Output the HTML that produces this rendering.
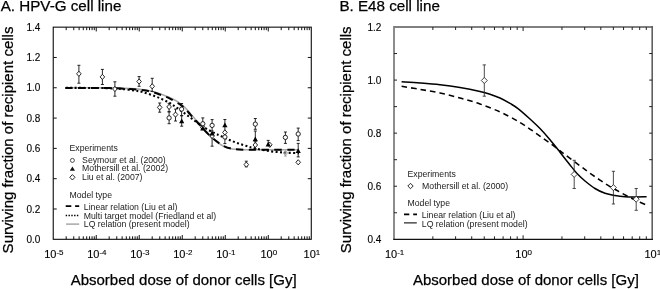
<!DOCTYPE html>
<html><head><meta charset="utf-8"><style>
html,body{margin:0;padding:0;background:#fff;width:660px;height:289px;overflow:hidden}
svg{display:block;will-change:transform}
text{font-family:"Liberation Sans", sans-serif;fill:#000}
.b{stroke:#000;stroke-width:0.25px}
.t{stroke:#000;stroke-width:0.12px}
.l text{fill:#1a1a1a}
</style></head><body>
<svg width="660" height="289" viewBox="0 0 660 289">
<rect x="53.23" y="27.15" width="258.04" height="212.15" fill="none" stroke="#000" stroke-width="1.05"/>
<path d="M66.18 239.30v-3M66.18 27.15v3M73.75 239.30v-3M73.75 27.15v3M79.12 239.30v-3M79.12 27.15v3M83.29 239.30v-3M83.29 27.15v3M86.70 239.30v-3M86.70 27.15v3M89.57 239.30v-3M89.57 27.15v3M92.07 239.30v-3M92.07 27.15v3M94.27 239.30v-3M94.27 27.15v3M96.24 239.30v-4.3M96.24 27.15v4.3M109.18 239.30v-3M109.18 27.15v3M116.76 239.30v-3M116.76 27.15v3M122.13 239.30v-3M122.13 27.15v3M126.30 239.30v-3M126.30 27.15v3M129.70 239.30v-3M129.70 27.15v3M132.58 239.30v-3M132.58 27.15v3M135.08 239.30v-3M135.08 27.15v3M137.28 239.30v-3M137.28 27.15v3M139.24 239.30v-4.3M139.24 27.15v4.3M152.19 239.30v-3M152.19 27.15v3M159.76 239.30v-3M159.76 27.15v3M165.14 239.30v-3M165.14 27.15v3M169.30 239.30v-3M169.30 27.15v3M172.71 239.30v-3M172.71 27.15v3M175.59 239.30v-3M175.59 27.15v3M178.08 239.30v-3M178.08 27.15v3M180.28 239.30v-3M180.28 27.15v3M182.25 239.30v-4.3M182.25 27.15v4.3M195.20 239.30v-3M195.20 27.15v3M202.77 239.30v-3M202.77 27.15v3M208.14 239.30v-3M208.14 27.15v3M212.31 239.30v-3M212.31 27.15v3M215.72 239.30v-3M215.72 27.15v3M218.59 239.30v-3M218.59 27.15v3M221.09 239.30v-3M221.09 27.15v3M223.29 239.30v-3M223.29 27.15v3M225.26 239.30v-4.3M225.26 27.15v4.3M238.20 239.30v-3M238.20 27.15v3M245.78 239.30v-3M245.78 27.15v3M251.15 239.30v-3M251.15 27.15v3M255.32 239.30v-3M255.32 27.15v3M258.72 239.30v-3M258.72 27.15v3M261.60 239.30v-3M261.60 27.15v3M264.10 239.30v-3M264.10 27.15v3M266.30 239.30v-3M266.30 27.15v3M268.26 239.30v-4.3M268.26 27.15v4.3M281.21 239.30v-3M281.21 27.15v3M288.78 239.30v-3M288.78 27.15v3M294.16 239.30v-3M294.16 27.15v3M298.32 239.30v-3M298.32 27.15v3M301.73 239.30v-3M301.73 27.15v3M304.61 239.30v-3M304.61 27.15v3M307.10 239.30v-3M307.10 27.15v3M309.30 239.30v-3M309.30 27.15v3M53.23 208.99h3.5M311.27 208.99h-3.5M53.23 178.69h3.5M311.27 178.69h-3.5M53.23 148.38h3.5M311.27 148.38h-3.5M53.23 118.07h3.5M311.27 118.07h-3.5M53.23 87.76h3.5M311.27 87.76h-3.5M53.23 57.46h3.5M311.27 57.46h-3.5" stroke="#111" stroke-width="1" fill="none"/>
<text x="40.33" y="242.90" text-anchor="end" font-size="10" class="t">0.0</text>
<text x="40.33" y="212.59" text-anchor="end" font-size="10" class="t">0.2</text>
<text x="40.33" y="182.29" text-anchor="end" font-size="10" class="t">0.4</text>
<text x="40.33" y="151.98" text-anchor="end" font-size="10" class="t">0.6</text>
<text x="40.33" y="121.67" text-anchor="end" font-size="10" class="t">0.8</text>
<text x="40.33" y="91.36" text-anchor="end" font-size="10" class="t">1.0</text>
<text x="40.33" y="61.06" text-anchor="end" font-size="10" class="t">1.2</text>
<text x="40.33" y="30.75" text-anchor="end" font-size="10" class="t">1.4</text>
<text x="53.83" y="258.4" text-anchor="middle" font-size="11" class="t">10<tspan font-size="8" dy="-3.9">-5</tspan></text>
<text x="96.84" y="258.4" text-anchor="middle" font-size="11" class="t">10<tspan font-size="8" dy="-3.9">-4</tspan></text>
<text x="139.84" y="258.4" text-anchor="middle" font-size="11" class="t">10<tspan font-size="8" dy="-3.9">-3</tspan></text>
<text x="182.85" y="258.4" text-anchor="middle" font-size="11" class="t">10<tspan font-size="8" dy="-3.9">-2</tspan></text>
<text x="225.86" y="258.4" text-anchor="middle" font-size="11" class="t">10<tspan font-size="8" dy="-3.9">-1</tspan></text>
<text x="268.86" y="258.4" text-anchor="middle" font-size="11" class="t">10<tspan font-size="8" dy="-3.9">0</tspan></text>
<text x="311.87" y="258.4" text-anchor="middle" font-size="11" class="t">10<tspan font-size="8" dy="-3.9">1</tspan></text>
<path d="M394.00 239.30V27.00H652.20" fill="none" stroke="#808080" stroke-width="1.8"/>
<path d="M652.20 26.10V239.30" fill="none" stroke="#606060" stroke-width="1.6"/>
<path d="M393.20 239.30H653.00" stroke="#111" stroke-width="1.2"/>
<path d="M432.86 239.30v-3M432.86 27.00v3M455.60 239.30v-3M455.60 27.00v3M471.73 239.30v-3M471.73 27.00v3M484.24 239.30v-3M484.24 27.00v3M494.46 239.30v-3M494.46 27.00v3M503.10 239.30v-3M503.10 27.00v3M510.59 239.30v-3M510.59 27.00v3M517.19 239.30v-3M517.19 27.00v3M523.10 239.30v-4M523.10 27.00v4M561.96 239.30v-3M561.96 27.00v3M584.70 239.30v-3M584.70 27.00v3M600.83 239.30v-3M600.83 27.00v3M613.34 239.30v-3M613.34 27.00v3M623.56 239.30v-3M623.56 27.00v3M632.20 239.30v-3M632.20 27.00v3M639.69 239.30v-3M639.69 27.00v3M646.29 239.30v-3M646.29 27.00v3M394.00 212.76h3M652.20 212.76h-3M394.00 186.22h3M652.20 186.22h-3M394.00 159.69h3M652.20 159.69h-3M394.00 133.15h3M652.20 133.15h-3M394.00 106.61h3M652.20 106.61h-3M394.00 80.08h3M652.20 80.08h-3M394.00 53.54h3M652.20 53.54h-3" stroke="#222" stroke-width="1" fill="none"/>
<text x="381.40" y="242.90" text-anchor="end" font-size="10" class="t">0.4</text>
<text x="381.40" y="189.83" text-anchor="end" font-size="10" class="t">0.6</text>
<text x="381.40" y="136.75" text-anchor="end" font-size="10" class="t">0.8</text>
<text x="381.40" y="83.68" text-anchor="end" font-size="10" class="t">1.0</text>
<text x="381.40" y="30.60" text-anchor="end" font-size="10" class="t">1.2</text>
<text x="394.60" y="258.4" text-anchor="middle" font-size="11" class="t">10<tspan font-size="8" dy="-3.9">-1</tspan></text>
<text x="523.70" y="258.4" text-anchor="middle" font-size="11" class="t">10<tspan font-size="8" dy="-3.9">0</tspan></text>
<text x="652.80" y="258.4" text-anchor="middle" font-size="11" class="t">10<tspan font-size="8" dy="-3.9">1</tspan></text>
<text x="0.7" y="11.45" font-size="15.2" class="b">A. HPV-G cell line</text>
<text x="339.4" y="11.45" font-size="15.2" class="b">B. E48 cell line</text>
<text transform="translate(13.1,140) rotate(-90)" text-anchor="middle" font-size="15" class="b">Surviving fraction of recipient cells</text>
<text transform="translate(350.6,139.8) rotate(-90)" text-anchor="middle" font-size="15" class="b">Surviving fraction of recipient cells</text>
<text x="183.65" y="284.7" text-anchor="middle" font-size="15" class="b">Absorbed dose of donor cells [Gy]</text>
<text x="525.90" y="284.7" text-anchor="middle" font-size="15" class="b">Absorbed dose of donor cells [Gy]</text>
<g font-size="8.7" class="l">
<text x="69.5" y="151.1">Experiments</text>
<text x="82.1" y="162.6">Seymour et al. (2000)</text>
<text x="82.1" y="171.3">Mothersill et al. (2002)</text>
<text x="82.1" y="180.0">Liu et al. (2007)</text>
<text x="69.5" y="197.5">Model type</text>
<text x="83.8" y="209.7">Linear relation (Liu et al)</text>
<text x="83.8" y="218.5">Multi target model (Friedland et al)</text>
<text x="83.8" y="227.2">LQ relation (present model)</text>
</g>
<circle cx="72.4" cy="160.4" r="2.0" fill="none" stroke="#222" stroke-width="0.8"/>
<path d="M72.4 166.6L75 170.8H69.8Z" fill="#111"/>
<path d="M72.4 174.6L75 177.3L72.4 180L69.8 177.3Z" fill="none" stroke="#111" stroke-width="0.9"/>
<path d="M65.7 206.1H71.3M75.1 206.1H79.2" stroke="#000" stroke-width="1.6"/>
<path d="M65.7 215.5H78.4" stroke="#000" stroke-width="1.4" stroke-dasharray="1.4 1.4"/>
<path d="M66.1 224.1H79.2" stroke="#999" stroke-width="1.3"/>
<g font-size="8.7" class="l">
<text x="407.5" y="176.5">Experiments</text>
<text x="422.1" y="188.7">Mothersill et al. (2000)</text>
<text x="407.5" y="205.5">Model type</text>
<text x="421.8" y="218.0">Linear relation (Liu et al)</text>
<text x="421.8" y="226.6">LQ relation (present model)</text>
</g>
<path d="M410.5 183.3L413.2 186L410.5 188.7L407.8 186Z" fill="none" stroke="#111" stroke-width="0.9"/>
<path d="M404.0 214.4H409.3M413.2 214.4H417.0" stroke="#000" stroke-width="1.6"/>
<path d="M404.0 222.9H416.8" stroke="#000" stroke-width="1.05"/>
<path d="M65.30 87.70C69.42 87.70 82.55 87.67 90.00 87.70C97.45 87.73 103.33 87.75 110.00 87.90C116.67 88.05 125.00 88.35 130.00 88.60C135.00 88.85 136.67 89.03 140.00 89.40C143.33 89.77 146.67 90.07 150.00 90.80C153.33 91.53 156.67 92.63 160.00 93.80C163.33 94.97 167.00 96.43 170.00 97.80C173.00 99.17 175.50 100.37 178.00 102.00C180.50 103.63 183.00 105.73 185.00 107.60C187.00 109.47 188.33 111.30 190.00 113.20C191.67 115.10 193.33 117.07 195.00 119.00C196.67 120.93 198.33 122.83 200.00 124.80C201.67 126.77 203.00 128.63 205.00 130.80C207.00 132.97 209.50 135.57 212.00 137.80C214.50 140.03 217.83 142.68 220.00 144.20C222.17 145.72 223.33 146.18 225.00 146.90C226.67 147.62 228.33 148.10 230.00 148.50C231.67 148.90 232.50 149.10 235.00 149.30C237.50 149.50 240.83 149.62 245.00 149.70C249.17 149.78 251.00 149.78 260.00 149.80C269.00 149.82 292.50 149.80 299.00 149.80" fill="none" stroke="#a8a8a8" stroke-width="1.6"/>
<path d="M65.30 87.90C69.42 87.90 82.55 87.87 90.00 87.90C97.45 87.93 103.33 87.92 110.00 88.10C116.67 88.28 125.00 88.70 130.00 89.00C135.00 89.30 136.67 89.50 140.00 89.90C143.33 90.30 146.67 90.62 150.00 91.40C153.33 92.18 156.67 93.40 160.00 94.60C163.33 95.80 166.67 96.95 170.00 98.60C173.33 100.25 177.50 102.83 180.00 104.50C182.50 106.17 183.33 106.98 185.00 108.60C186.67 110.22 188.33 112.33 190.00 114.20C191.67 116.07 193.33 117.97 195.00 119.80C196.67 121.63 198.33 123.37 200.00 125.20C201.67 127.03 203.00 128.73 205.00 130.80C207.00 132.87 209.50 135.43 212.00 137.60C214.50 139.77 217.83 142.30 220.00 143.80C222.17 145.30 223.33 145.85 225.00 146.60C226.67 147.35 228.33 147.87 230.00 148.30C231.67 148.73 232.50 148.97 235.00 149.20C237.50 149.43 240.83 149.60 245.00 149.70C249.17 149.80 251.00 149.78 260.00 149.80C269.00 149.82 292.50 149.80 299.00 149.80" fill="none" stroke="#000" stroke-width="2" stroke-dasharray="7.3 5.45"/>
<path d="M65.30 87.90C71.08 87.92 91.72 87.90 100.00 88.00C108.28 88.10 110.83 88.28 115.00 88.50C119.17 88.72 121.67 88.95 125.00 89.30C128.33 89.65 132.00 90.12 135.00 90.60C138.00 91.08 140.08 91.42 143.00 92.20C145.92 92.98 149.42 94.18 152.50 95.30C155.58 96.42 158.58 97.58 161.50 98.90C164.42 100.22 167.42 101.72 170.00 103.20C172.58 104.68 174.50 106.07 177.00 107.80C179.50 109.53 182.45 111.73 185.00 113.60C187.55 115.47 189.80 117.17 192.30 119.00C194.80 120.83 197.47 122.87 200.00 124.60C202.53 126.33 205.00 127.95 207.50 129.40C210.00 130.85 212.92 132.27 215.00 133.30C217.08 134.33 217.80 134.58 220.00 135.60C222.20 136.62 225.38 138.18 228.20 139.40C231.02 140.62 233.97 141.83 236.90 142.90C239.83 143.97 242.78 144.88 245.80 145.80C248.82 146.72 250.97 147.50 255.00 148.40C259.03 149.30 265.00 150.50 270.00 151.20C275.00 151.90 280.17 152.27 285.00 152.60C289.83 152.93 296.67 153.10 299.00 153.20" fill="none" stroke="#000" stroke-width="2.1" stroke-dasharray="2.0 2.4" stroke-dashoffset="-0.7"/>
<path d="M401.60 81.80C404.67 82.00 413.60 82.50 420.00 83.00C426.40 83.50 433.33 84.03 440.00 84.80C446.67 85.57 453.33 86.48 460.00 87.60C466.67 88.72 475.00 90.40 480.00 91.50C485.00 92.60 486.67 93.12 490.00 94.20C493.33 95.28 496.67 96.47 500.00 98.00C503.33 99.53 507.00 101.63 510.00 103.40C513.00 105.17 514.67 106.00 518.00 108.60C521.33 111.20 526.33 115.67 530.00 119.00C533.67 122.33 536.67 125.13 540.00 128.60C543.33 132.07 546.67 135.87 550.00 139.80C553.33 143.73 556.67 148.00 560.00 152.20C563.33 156.40 567.00 161.27 570.00 165.00C573.00 168.73 575.50 171.93 578.00 174.60C580.50 177.27 582.17 178.68 585.00 181.00C587.83 183.32 591.67 186.45 595.00 188.50C598.33 190.55 601.67 192.12 605.00 193.30C608.33 194.48 611.67 195.02 615.00 195.60C618.33 196.18 621.67 196.57 625.00 196.80C628.33 197.03 631.40 197.00 635.00 197.00C638.60 197.00 644.67 196.83 646.60 196.80" fill="none" stroke="#000" stroke-width="1.5"/>
<path d="M401.60 86.30C404.67 86.82 413.60 88.30 420.00 89.40C426.40 90.50 433.33 91.47 440.00 92.90C446.67 94.33 453.33 96.15 460.00 98.00C466.67 99.85 473.33 101.68 480.00 104.00C486.67 106.32 494.17 109.30 500.00 111.90C505.83 114.50 510.83 117.30 515.00 119.60C519.17 121.90 521.67 123.55 525.00 125.70C528.33 127.85 531.67 130.17 535.00 132.50C538.33 134.83 541.67 137.30 545.00 139.70C548.33 142.10 551.67 144.42 555.00 146.90C558.33 149.38 560.83 151.45 565.00 154.60C569.17 157.75 575.83 162.70 580.00 165.80C584.17 168.90 586.67 170.82 590.00 173.20C593.33 175.58 596.67 177.87 600.00 180.10C603.33 182.33 606.67 184.58 610.00 186.60C613.33 188.62 616.67 190.40 620.00 192.20C623.33 194.00 626.67 195.73 630.00 197.40C633.33 199.07 637.17 200.90 640.00 202.20C642.83 203.50 645.83 204.70 647.00 205.20" fill="none" stroke="#000" stroke-width="1.55" stroke-dasharray="5.6 4"/>
<path d="M78.90 65.30V73.80M77.40 65.30h3M78.90 73.80V83.20M77.40 83.20h3M102.40 69.40V76.90M100.90 69.40h3M102.40 76.90V84.50M100.90 84.50h3M114.90 81.80V89.00M113.40 81.80h3M114.90 89.00V96.20M113.40 96.20h3M139.10 76.60V81.50M137.60 76.60h3M139.10 81.50V86.30M137.60 86.30h3M152.20 78.30V86.30M150.70 78.30h3M152.20 86.30V91.50M150.70 91.50h3M159.70 103.00V107.40M158.20 103.00h3M159.70 107.40V112.20M158.20 112.20h3M169.10 103.30V106.90M167.60 103.30h3M169.10 106.90V111.80M167.60 111.80h3M175.50 109.10V114.60M174.00 109.10h3M175.50 114.60V121.00M174.00 121.00h3M246.30 161.20V164.60M244.80 161.20h3M246.30 164.60V166.80M244.80 166.80h3M255.30 141.70V145.00M253.80 141.70h3M255.30 145.00V148.90M253.80 148.90h3M169.10 111.80V117.90M167.60 111.80h3M169.10 117.90V123.70M167.60 123.70h3M181.60 103.50V109.10M180.10 103.50h3M181.60 109.10V115.70M180.10 115.70h3M202.80 117.90V123.80M201.30 117.90h3M212.10 119.60V125.40M210.60 119.60h3M212.10 125.40V131.00M210.60 131.00h3M224.90 137.00V143.60M223.40 143.60h3M255.30 118.50V124.10M253.80 118.50h3M255.30 124.10V129.30M253.80 129.30h3M285.40 132.00V137.40M283.90 132.00h3M285.40 137.40V143.40M283.90 143.40h3M298.20 128.10V134.00M296.70 128.10h3M298.20 134.00V140.60M296.70 140.60h3M181.70 115.70V120.80M180.20 115.70h3M181.70 120.80V126.20M180.20 126.20h3M212.10 133.00V146.20M210.60 146.20h3M224.90 119.50V124.90M223.40 119.50h3M224.90 124.90V132.00M223.40 132.00h3M255.30 131.00V138.80M253.80 131.00h3M268.20 140.40V144.20M266.70 140.40h3M298.20 143.40V150.70M296.70 143.40h3M298.20 150.70V156.90M296.70 156.90h3" stroke="#111" stroke-width="0.9" fill="none"/>
<path d="M78.90 71.20L81.20 73.80L78.90 76.40L76.60 73.80ZM102.40 74.30L104.70 76.90L102.40 79.50L100.10 76.90ZM114.90 86.40L117.20 89.00L114.90 91.60L112.60 89.00ZM139.10 78.90L141.40 81.50L139.10 84.10L136.80 81.50ZM152.20 83.70L154.50 86.30L152.20 88.90L149.90 86.30ZM159.70 104.80L162.00 107.40L159.70 110.00L157.40 107.40ZM169.10 104.30L171.40 106.90L169.10 109.50L166.80 106.90ZM175.50 112.00L177.80 114.60L175.50 117.20L173.20 114.60ZM202.80 124.90L205.10 127.50L202.80 130.10L200.50 127.50ZM212.10 133.40L214.40 136.00L212.10 138.60L209.80 136.00ZM224.90 129.80L227.20 132.40L224.90 135.00L222.60 132.40ZM246.30 162.00L248.60 164.60L246.30 167.20L244.00 164.60ZM255.30 142.40L257.60 145.00L255.30 147.60L253.00 145.00ZM269.80 142.20L272.10 144.80L269.80 147.40L267.50 144.80ZM298.20 159.70L300.50 162.30L298.20 164.90L295.90 162.30Z" fill="#fff" stroke="#111" stroke-width="0.9"/>
<circle cx="169.10" cy="117.90" r="2.15" fill="#fff" stroke="#111" stroke-width="0.9"/>
<circle cx="181.60" cy="109.10" r="2.15" fill="#fff" stroke="#111" stroke-width="0.9"/>
<circle cx="202.80" cy="123.80" r="2.15" fill="#fff" stroke="#111" stroke-width="0.9"/>
<circle cx="212.10" cy="125.40" r="2.15" fill="#fff" stroke="#111" stroke-width="0.9"/>
<circle cx="224.90" cy="137.00" r="2.15" fill="#fff" stroke="#111" stroke-width="0.9"/>
<circle cx="255.30" cy="124.10" r="2.15" fill="#fff" stroke="#111" stroke-width="0.9"/>
<circle cx="285.40" cy="137.40" r="2.15" fill="#fff" stroke="#111" stroke-width="0.9"/>
<circle cx="298.20" cy="134.00" r="2.15" fill="#fff" stroke="#111" stroke-width="0.9"/>
<path d="M181.70 118.40L184.30 123.20H179.10ZM202.80 125.60L205.40 130.40H200.20ZM212.10 130.60L214.70 135.40H209.50ZM224.90 122.50L227.50 127.30H222.30ZM255.30 136.40L257.90 141.20H252.70ZM268.20 141.80L270.80 146.60H265.60ZM298.20 148.30L300.80 153.10H295.60Z" fill="#000"/>
<path d="M285.4 151V156.1M283.9 156.1h3M285.40 150.40L287.70 153.00L285.40 155.60L283.10 153.00Z" fill="none" stroke="#999" stroke-width="0.8"/>
<path d="M484.30 64.90V96.20M482.70 64.90h3.2M482.70 96.20h3.2M574.20 160.30V188.50M572.60 160.30h3.2M572.60 188.50h3.2M613.40 171.30V204.00M611.80 171.30h3.2M611.80 204.00h3.2M636.20 188.50V210.30M634.60 188.50h3.2M634.60 210.30h3.2" stroke="#2a2a2a" stroke-width="0.85" fill="none"/>
<path d="M484.30 77.50L487.30 80.50L484.30 83.50L481.30 80.50ZM574.20 171.40L577.20 174.40L574.20 177.40L571.20 174.40ZM613.40 184.60L616.40 187.60L613.40 190.60L610.40 187.60ZM636.20 196.20L639.20 199.20L636.20 202.20L633.20 199.20Z" fill="#fff" stroke="#222" stroke-width="0.85"/>
</svg>
</body></html>
